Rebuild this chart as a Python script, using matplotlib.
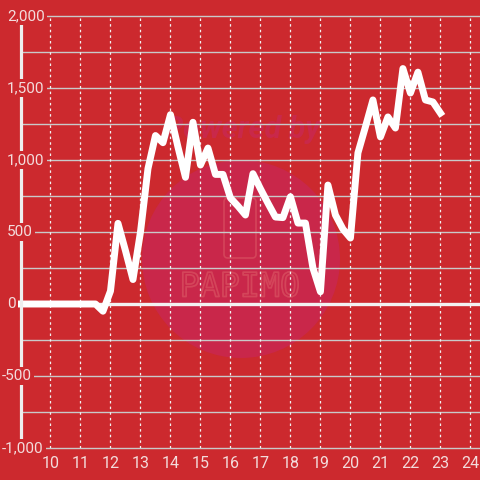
import numpy as np
import matplotlib.pyplot as plt
import matplotlib.patheffects as pe
import matplotlib.transforms as mtransforms
from matplotlib.patches import Circle, FancyBboxPatch

plt.rcParams['font.family'] = ['Roboto', 'DejaVu Sans']

# hora del dia y valores
horas = [9.0, 9.25, 9.5, 9.75, 10.0, 10.25, 10.5, 10.75, 11.0, 11.25, 11.5,
         11.75, 12.0, 12.25, 12.5, 12.75, 13.0, 13.25, 13.5, 13.75, 14.0,
         14.25, 14.5, 14.75, 15.0, 15.25, 15.5, 15.75, 16.0, 16.25, 16.5,
         16.75, 17.0, 17.25, 17.5, 17.75, 18.0, 18.25, 18.5, 18.75, 19.0,
         19.25, 19.5, 19.75, 20.0, 20.25, 20.5, 20.75, 21.0, 21.25, 21.5,
         21.75, 22.0, 22.25, 22.5, 22.75, 23.0]
valores = [0, 0, 0, 0, 0, 0, 0, 0, 0, 0, 0,
           -50, 90, 560, 370, 170, 500, 940, 1170, 1120, 1315,
           1090, 880, 1262, 965, 1083, 900, 900, 736, 680, 618,
           905, 800, 700, 604, 600, 745, 562, 562, 250, 85,
           826, 618, 520, 458, 1049, 1230, 1417, 1160, 1299, 1222,
           1635, 1465, 1610, 1417, 1403, 1326]

yticks_lab = [-1000, -500, 0, 500, 1000, 1500, 2000]
yticks_grid = [-750, -250, 250, 750, 1250, 1750]
xticks = [10, 11, 12, 13, 14, 15, 16, 17, 18, 19, 20, 21, 22, 23, 24]

bg = '#cc292e'
txt = '#f3dcdc'

fig = plt.figure(figsize=(4.8, 4.8), dpi=100)
fig.patch.set_facecolor(bg)
ax = fig.add_axes([20.5/480, 32/480, 459.5/480, 432/480])
ax.set_facecolor(bg)
ax.set_xlim(9, 24.32)
ax.set_ylim(-1000, 2000)

# marca de agua (debajo de la rejilla)
ft = fig.transFigure
ax.add_patch(Circle((241/480, 1-259/480), 99/480, transform=ft,
                    facecolor='#c9274a', edgecolor='none', zorder=0.5, clip_on=False))
ax.add_patch(FancyBboxPatch((224/480, 1-258/480), 32/480, 60/480,
                            boxstyle='round,pad=0,rounding_size=0.008',
                            transform=ft, facecolor='none',
                            edgecolor='#d4455a', lw=1.2, zorder=0.6, clip_on=False))
ax.text(242/480, 1-130/480, 'Powered by', transform=ft, ha='center', va='center',
        fontsize=22, fontweight='bold', style='italic', color='#c9284a', zorder=0.6)
t = ax.text(240/480, 1-287/480, 'PAPIMO', transform=ft, ha='center', va='center',
            fontsize=24, color='none', zorder=0.6, family='DejaVu Sans Mono')
t.set_path_effects([pe.Stroke(linewidth=1.3, foreground='#d4455a')])

# rejilla
for v in yticks_lab + yticks_grid:
    if v == 0:
        continue
    ax.axhline(v, color='#c9c9c9', lw=1.0, zorder=1, clip_on=False)
for v in xticks:
    ax.axvline(v, color='#f2f2f2', lw=0.9, ls=(0, (2, 2.5)), zorder=1)
ax.axhline(0, color='#f2f2f2', lw=2.4, zorder=2)

ax.plot(horas, valores, color='white', lw=5.0, zorder=3,
        solid_joinstyle='round', solid_capstyle='projecting', clip_on=False)

for s in ['top', 'right', 'bottom']:
    ax.spines[s].set_visible(False)
ax.spines['left'].set_color('#eeeeee')
ax.spines['left'].set_linewidth(2.3)
ax.spines['left'].set_zorder(4)

ax.set_yticks([])
ax.set_xticks(xticks)
ax.set_xticklabels([str(v) for v in xticks])
ax.tick_params(axis='x', length=0, pad=6, labelsize=11.5, labelcolor=txt)

ytr = mtransforms.blended_transform_factory(fig.transFigure, ax.transData)
for v in yticks_lab:
    lab = f'{v:,}'
    xpix = 2 if v < 0 else 7
    ax.text(xpix/480, v, lab, transform=ytr, ha='left', va='center',
            fontsize=11, color=txt, zorder=5,
            bbox=dict(facecolor=bg, edgecolor='none', pad=1.5))

fig.savefig('out.png', dpi=100, facecolor=bg)
